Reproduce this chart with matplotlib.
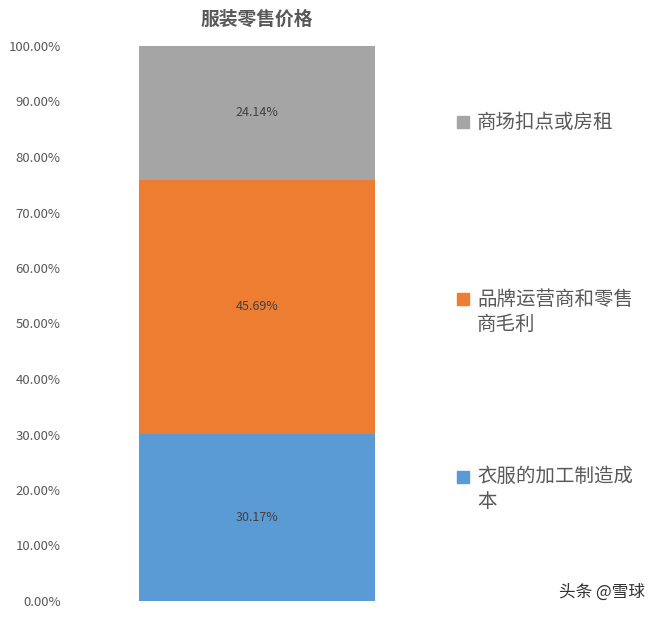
import matplotlib.pyplot as plt
from matplotlib.ticker import FuncFormatter

plt.rcParams['font.family'] = ['Noto Sans CJK SC', 'DejaVu Sans']

# Data (bottom to top)
categories = ['衣服的加工制造成\n本', '品牌运营商和零售\n商毛利', '商场扣点或房租']
values = [30.17, 45.69, 24.14]
colors = ['#5B9BD5', '#ED7D31', '#A5A5A5']
yticks = [0, 10, 20, 30, 40, 50, 60, 70, 80, 90, 100]

text_color = '#595959'

fig = plt.figure(figsize=(6.6, 6.17), dpi=100)
ax = fig.add_axes([80 / 660, 16 / 617, 354 / 660, 555 / 617])

bottom = 0
for cat, val, col in zip(categories, values, colors):
    ax.bar(0, val, width=0.667, bottom=bottom, color=col, label=cat)
    ax.text(0, bottom + val / 2, f'{val:.2f}%', ha='center', va='center',
            fontsize=9, color='#404040')
    bottom += val

ax.set_xlim(-0.5, 0.5)
ax.set_ylim(0, 100)
ax.set_yticks(yticks)
ax.yaxis.set_major_formatter(FuncFormatter(lambda v, p: f'{v:.2f}%'))
ax.tick_params(axis='y', length=0, labelsize=9.5, labelcolor=text_color, pad=14)
ax.set_xticks([])
for s in ax.spines.values():
    s.set_visible(False)

fig.text(257 / 660, 1 - 19 / 617, '服装零售价格', ha='center', va='center',
         fontsize=13.5, fontweight='bold', color=text_color)

# Legend entries placed on the right
legend_y = [489, 312, 122]
for cat, col, y in zip(categories, colors, legend_y):
    nlines = cat.count('\n') + 1
    top = y - (nlines - 1) * 12.5
    fig.patches.append(plt.Rectangle((457 / 660, 1 - (top + 6) / 617), 12 / 660, 12 / 617,
                                     transform=fig.transFigure, color=col))
    fig.text(477 / 660, 1 - y / 617, cat, ha='left', va='center', fontsize=14,
             color=text_color, linespacing=1.25)

fig.text(645 / 660, 1 - 592 / 617, '头条 @雪球', ha='right', va='center',
         fontsize=12, color='#333333')

fig.savefig('out.png', dpi=100, facecolor='white')
